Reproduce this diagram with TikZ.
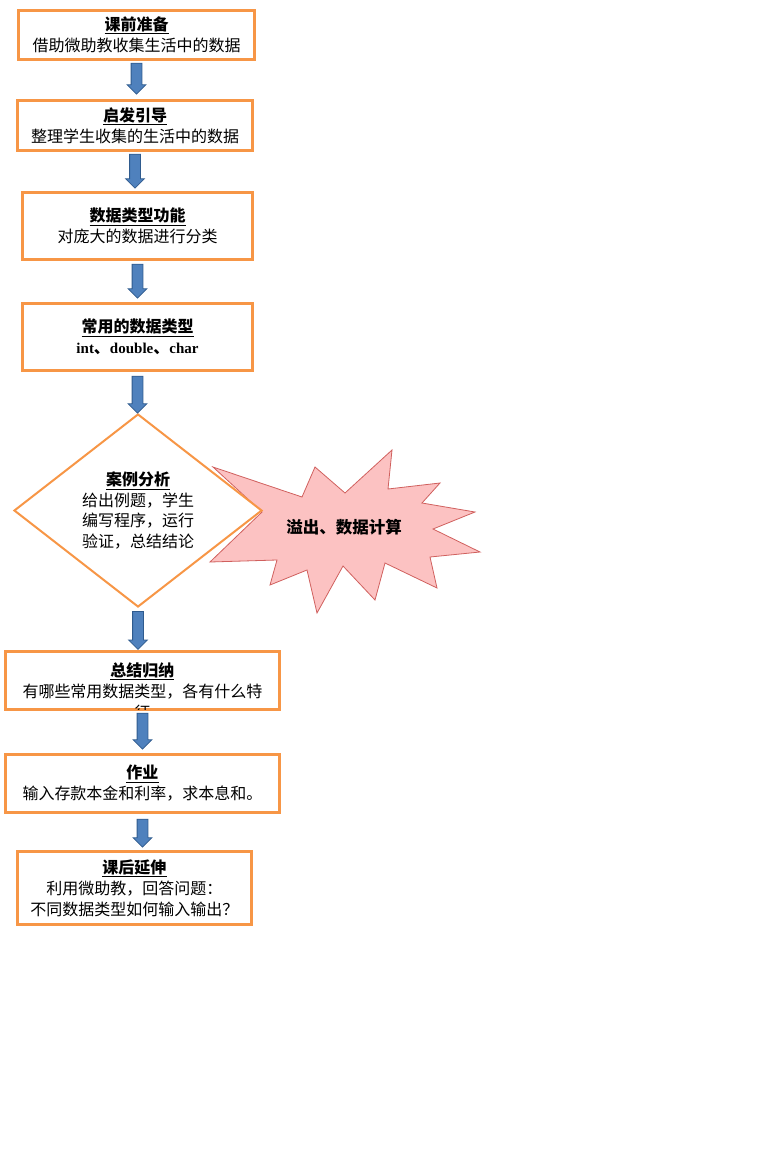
\documentclass[tikz,border=0pt]{standalone}
\usepackage{fontspec}
\setmainfont{Noto Sans CJK SC}
\newfontfamily\latinserif{Liberation Serif}
\usetikzlibrary{shapes.geometric,shapes.arrows}

\definecolor{boxorange}{HTML}{F79646}
\definecolor{arrowblue}{HTML}{4F81BD}
\definecolor{arrowedge}{HTML}{2F5B8E}
\definecolor{burstpink}{HTML}{FCC2C2}
\definecolor{burstred}{HTML}{D0605E}

\newcommand{\steptitle}[1]{\underline{\textbf{#1}}}

\begin{document}
\begin{tikzpicture}[x=1pt, y=1pt,
  stepbox/.style={draw=boxorange, line width=2.5pt, fill=white, align=center, inner sep=0pt, font=\fontsize{16}{21}\selectfont},
  decision/.style={diamond, aspect=1.3, draw=boxorange, line width=2pt, fill=white, align=center, inner sep=0pt, font=\fontsize{16}{20.5}\selectfont},
  flowarrow/.style={single arrow, draw=arrowedge, fill=arrowblue, line width=0.8pt, inner sep=5pt, minimum width=0pt, single arrow head extend=4pt, single arrow head indent=0pt, shape border rotate=270, anchor=tail, pos=0}]
\useasboundingbox (0,0) rectangle (758,-1175);

\node[stepbox, minimum width=236pt, minimum height=49pt] (prep) at (136.5,-35) {\steptitle{课前准备}\\借助微助教收集生活中的数据};
\node[stepbox, minimum width=235pt, minimum height=50pt] (guide) at (135,-125.5) {\steptitle{启发引导}\\整理学生收集的生活中的数据};
\node[stepbox, minimum width=230pt, minimum height=67pt] (func) at (137.5,-226) {\steptitle{数据类型功能}\\对庞大的数据进行分类};
\node[stepbox, minimum width=230pt, minimum height=67pt] (types) at (137.5,-337) {\steptitle{常用的数据类型}\\{\latinserif\bfseries\fontsize{15}{21}\selectfont int}\textbf{、}{\latinserif\bfseries\fontsize{15}{21}\selectfont double}\textbf{、}{\latinserif\bfseries\fontsize{15}{21}\selectfont char}};

% burst behind the case node
\filldraw[fill=burstpink, draw=burstred, line width=0.8pt, line join=miter]
  (213,-467) -- (302,-497) -- (315,-467) -- (345,-493) -- (392,-450) -- (388,-489)
  -- (440,-483) -- (422,-503) -- (475,-512) -- (433,-529) -- (480,-552) -- (430,-557)
  -- (437,-588) -- (385,-563) -- (375,-600) -- (343,-566) -- (317,-613) -- (307,-570)
  -- (270,-585) -- (277,-560) -- (210,-562) -- (262,-512) -- cycle;
\node[font=\fontsize{16.5}{20}\selectfont\bfseries] (overflow) at (344,-527) {溢出、数据计算};

\node[decision, minimum width=248pt, minimum height=193pt] (case) at (138,-510.5) {\steptitle{案例分析}\\给出例题，学生\\编写程序，运行\\验证，总结结论};

\node[stepbox, minimum width=274pt, minimum height=58pt] (summary) at (142.5,-680.5) {\steptitle{总结归纳}\\有哪些常用数据类型，各有什么特};
\begin{scope}
  \clip ([yshift=1.25pt]summary.south west) rectangle (summary.north east);
  \node[font=\fontsize{16}{21}\selectfont] (summarytail) at ([yshift=-32pt]summary.center) {征};
\end{scope}
\node[stepbox, minimum width=274pt, minimum height=58pt] (homework) at (142.5,-783.5) {\steptitle{作业}\\输入存款本金和利率，求本息和。};
\node[stepbox, minimum width=234pt, minimum height=73pt] (extend) at (134.5,-888) {\steptitle{课后延伸}\\利用微助教，回答问题：\\不同数据类型如何输入输出？};

\path (prep.south) -- node[flowarrow, yshift=-2pt, minimum height=31pt] (ar1) {} (guide.north);
\path (guide.south) -- node[flowarrow, yshift=-2pt, minimum height=34pt] (ar2) {} (func.north);
\path (func.south) -- node[flowarrow, yshift=-3pt, minimum height=34pt] (ar3) {} (types.north);
\path (types.south) -- node[flowarrow, yshift=-4pt, minimum height=37pt] (ar4) {} (case.north);
\path (case.south) -- node[flowarrow, yshift=-3pt, minimum height=38pt] (ar5) {} (summary.north);
\path (summary.south) -- node[flowarrow, yshift=-2pt, minimum height=36pt] (ar6) {} (homework.north);
\path (homework.south) -- node[flowarrow, yshift=-5pt, minimum height=28pt] (ar7) {} (extend.north);
\end{tikzpicture}
\end{document}
